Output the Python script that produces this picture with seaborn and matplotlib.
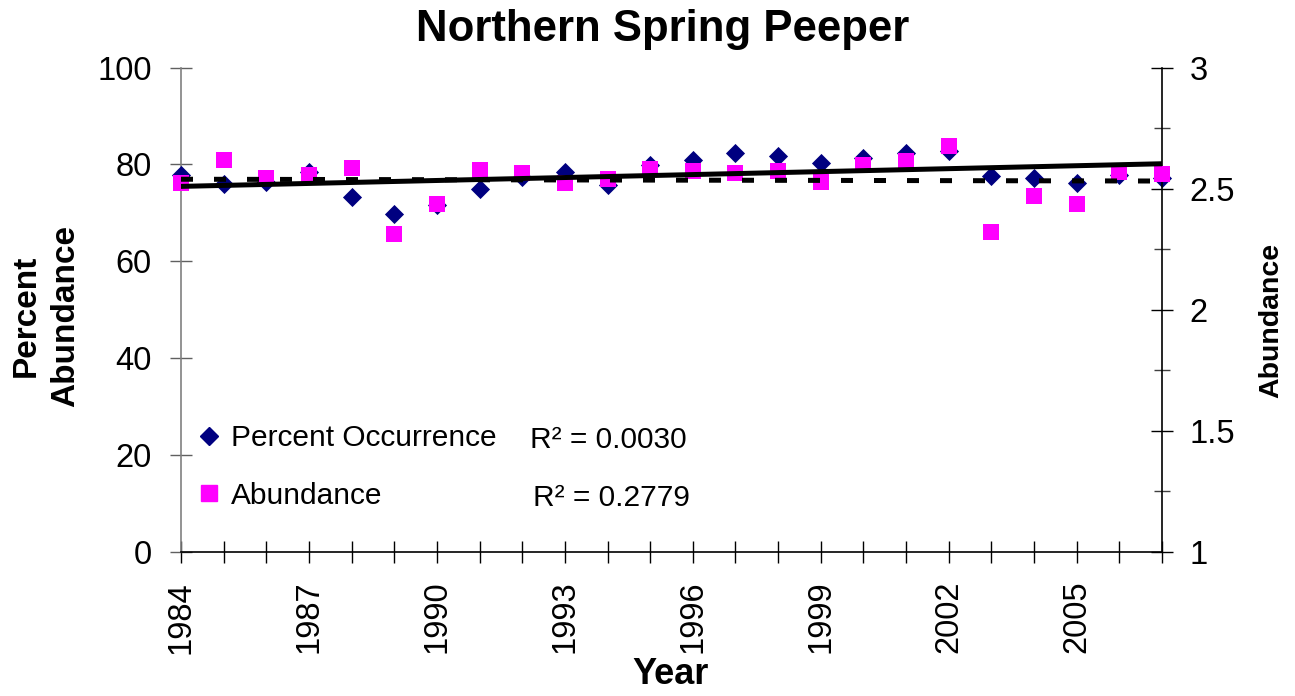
import numpy as np
import pandas as pd
import matplotlib
matplotlib.use("Agg")
import matplotlib.pyplot as plt
import seaborn as sns
from matplotlib.lines import Line2D
from matplotlib.ticker import MultipleLocator

sns.set_style("white")
plt.rcParams['font.family'] = ['Liberation Sans', 'DejaVu Sans']
plt.rcParams['text.color'] = 'black'
plt.rcParams['axes.labelcolor'] = 'black'
plt.rcParams['xtick.color'] = 'black'
plt.rcParams['ytick.color'] = 'black'

# values
years = list(range(1984, 2008))
pct_occ = [77.8, 76.0, 76.4, 78.4, 73.3, 69.8, 71.6, 74.9, 77.4, 78.4, 75.8, 79.9,
           80.9, 82.4, 81.8, 80.3, 81.3, 82.4, 82.8, 77.6, 77.2, 76.2, 77.8, 77.2]
abundance = [2.524, 2.618, 2.544, 2.557, 2.585, 2.313, 2.437, 2.577, 2.565, 2.524,
             2.540, 2.581, 2.573, 2.565, 2.573, 2.528, 2.598, 2.614, 2.676, 2.321,
             2.470, 2.437, 2.569, 2.561]
series_names = ["Percent Occurrence", "Abundance"]
r2_labels = ["R\u00b2 = 0.0030", "R\u00b2 = 0.2779"]

df = pd.DataFrame({"year": years, "pct": pct_occ, "abund": abundance})

navy = "#000080"
magenta = "#FF00FF"

W, H = 1295, 696
fig = plt.figure(figsize=(W / 100, H / 100), dpi=100)
ax = fig.add_axes([181 / W, 1 - 551.7 / H, (1162 - 181) / W, (551.7 - 67.7) / H])
ax2 = ax.twinx()
ax3 = ax.twinx()

# percent occurrence (left axis)
sns.scatterplot(data=df, x="year", y="pct", ax=ax, marker="D", color=navy,
                s=95, linewidth=0, clip_on=False, zorder=3)
# abundance (right axis)
sns.scatterplot(data=df, x="year", y="abund", ax=ax2, marker="s", color=magenta,
                s=135, linewidth=0, clip_on=False, zorder=3)
# trend lines
sns.regplot(data=df, x="year", y="abund", ax=ax2, scatter=False, ci=None,
            color="black", line_kws=dict(lw=3.6, linestyle=(0, (2.4, 4.2)),
                                         dash_capstyle="butt", zorder=4))
sns.regplot(data=df, x="year", y="pct", ax=ax3, scatter=False, ci=None,
            color="black", line_kws=dict(lw=3.6, solid_capstyle="round", zorder=4))

for a in (ax, ax2, ax3):
    a.set_xlim(1984, 2007)
    a.set_xlabel("")
    a.set_ylabel("")
ax.set_ylim(0, 100)
ax3.set_ylim(0, 100)
ax2.set_ylim(1, 3)
ax3.axis("off")

# left axis
ax.set_yticks(range(0, 101, 20))
ax.tick_params(axis="y", direction="inout", length=16, width=1, pad=13,
               labelsize=23.5, color="#606060", labelcolor="black", left=True)
ax.set_xticks(years)
ax.set_xticklabels([str(y) if (y - 1984) % 3 == 0 else "" for y in years],
                   rotation=90)
ax.tick_params(axis="x", direction="inout", length=16, width=1, pad=13,
               labelsize=23.5, color="black", labelcolor="black", bottom=True)
for s in ("top", "right"):
    ax.spines[s].set_visible(False)
ax.spines["left"].set_color("#808080")
ax.spines["bottom"].set_color("black")
ax.spines["left"].set_linewidth(1.2)
ax.spines["bottom"].set_linewidth(1.2)

# right axis
ax2.yaxis.set_major_locator(MultipleLocator(0.5))
ax2.yaxis.set_minor_locator(MultipleLocator(0.25))
ax2.yaxis.set_major_formatter(matplotlib.ticker.FuncFormatter(lambda v, p: f"{v:g}"))
ax2.tick_params(axis="y", which="major", direction="inout", length=16, width=1,
                pad=12, labelsize=23.5, color="black", labelcolor="black", right=True)
ax2.tick_params(axis="y", which="minor", direction="inout", length=12, width=1,
                color="#404040", right=True)
for s in ("top", "left", "bottom"):
    ax2.spines[s].set_visible(False)
ax2.spines["right"].set_color("black")
ax2.spines["right"].set_linewidth(1.2)

# legend and R^2 labels
handles = [Line2D([], [], marker="D", color=navy, ls="none", markersize=9.5),
           Line2D([], [], marker="s", color=magenta, ls="none", markersize=11)]
fig.legend(handles, series_names, loc="upper left",
           bbox_to_anchor=(198 / W, 1 - 424 / H), bbox_transform=fig.transFigure,
           frameon=False, fontsize=21.5, handlelength=0.75, handletextpad=0.35,
           labelspacing=1.0, borderpad=0, borderaxespad=0)
fig.text(530 / W, 1 - 440 / H, r2_labels[0], fontsize=21.5, va="center")
fig.text(533 / W, 1 - 498 / H, r2_labels[1], fontsize=21.5, va="center")

# titles
fig.text(663 / W, 1 - 30 / H, "Northern Spring Peeper", fontsize=31.5,
         fontweight="bold", ha="center", va="center")
fig.text(46 / W, 1 - 316 / H, "Percent\nAbundance", rotation=90, fontsize=24,
         fontweight="bold", ha="center", va="center", linespacing=1.35,
         multialignment="center")
fig.text(1271 / W, 1 - 320 / H, "Abundance", rotation=90, fontsize=20.5,
         fontweight="bold", ha="center", va="center")
fig.text(671 / W, 1 - 674 / H, "Year", fontsize=26, fontweight="bold",
         ha="center", va="center")

fig.savefig("out.png", dpi=100)
